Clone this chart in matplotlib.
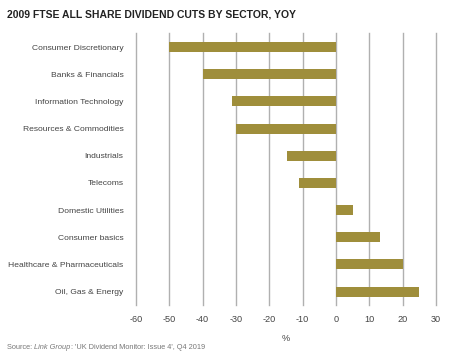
import matplotlib
matplotlib.use("Agg")
import matplotlib.pyplot as plt
from matplotlib.transforms import offset_copy

plt.rcParams['font.family'] = ['Liberation Sans', 'DejaVu Sans']

sectors = ["Consumer Discretionary", "Banks & Financials", "Information Technology",
           "Resources & Commodities", "Industrials", "Telecoms", "Domestic Utilities",
           "Consumer basics", "Healthcare & Pharmaceuticals", "Oil, Gas & Energy"]
changes = [-50, -40, -31.3, -30, -14.8, -11.2, 5, 13.2, 20, 25]
ticks = [-60, -50, -40, -30, -20, -10, 0, 10, 20, 30]

fig = plt.figure(figsize=(4.5, 3.59), dpi=100)
ax = fig.add_axes([0.302, 0.150, 0.667, 0.758])

ypos = list(range(len(sectors)))
ax.barh(ypos, changes, height=0.37, color='#9f8e3b', zorder=3)

ax.set_xlim(-60, 30)
ax.set_ylim(len(sectors) - 0.5, -0.52)
ax.set_xticks(ticks)
ax.set_xticklabels([str(t) for t in ticks])
ax.set_yticks(ypos)
ax.set_yticklabels(sectors)
ax.xaxis.grid(True, color='#b0b0b0', linewidth=1.0, zorder=0)
for gl in ax.get_xgridlines():
    gl.set_clip_on(False)
ax.set_axisbelow(True)
for s in ax.spines.values():
    s.set_visible(False)
ax.tick_params(axis='both', length=0, colors='#444444')
ax.tick_params(axis='x', pad=7, labelsize=6.6)
ax.tick_params(axis='y', pad=9, labelsize=6.1)
ax.set_xlabel('%', fontsize=6.6, color='#444444', labelpad=7)

fig.text(0.016, 0.96, "2009 FTSE ALL SHARE DIVIDEND CUTS BY SECTOR, YOY",
         fontsize=7.5, fontweight='bold', color='#222222', va='center')

# source line, "Link Group" in italics
src_style = dict(fontsize=5.3, color='#777777', va='center')
t1 = fig.text(0.016, 0.031, "Source: ", **src_style)
fig.canvas.draw()
r = fig.canvas.get_renderer()
w1 = t1.get_window_extent(r).width
t2 = fig.text(0.016, 0.031, "Link Group", style='italic',
              transform=offset_copy(fig.transFigure, fig=fig, x=w1, y=0, units='dots'),
              **src_style)
fig.canvas.draw()
w2 = t2.get_window_extent(r).width
fig.text(0.016, 0.031, ": 'UK Dividend Monitor: Issue 4', Q4 2019",
         transform=offset_copy(fig.transFigure, fig=fig, x=w1 + w2, y=0, units='dots'),
         **src_style)

fig.savefig("out.png", dpi=100)
